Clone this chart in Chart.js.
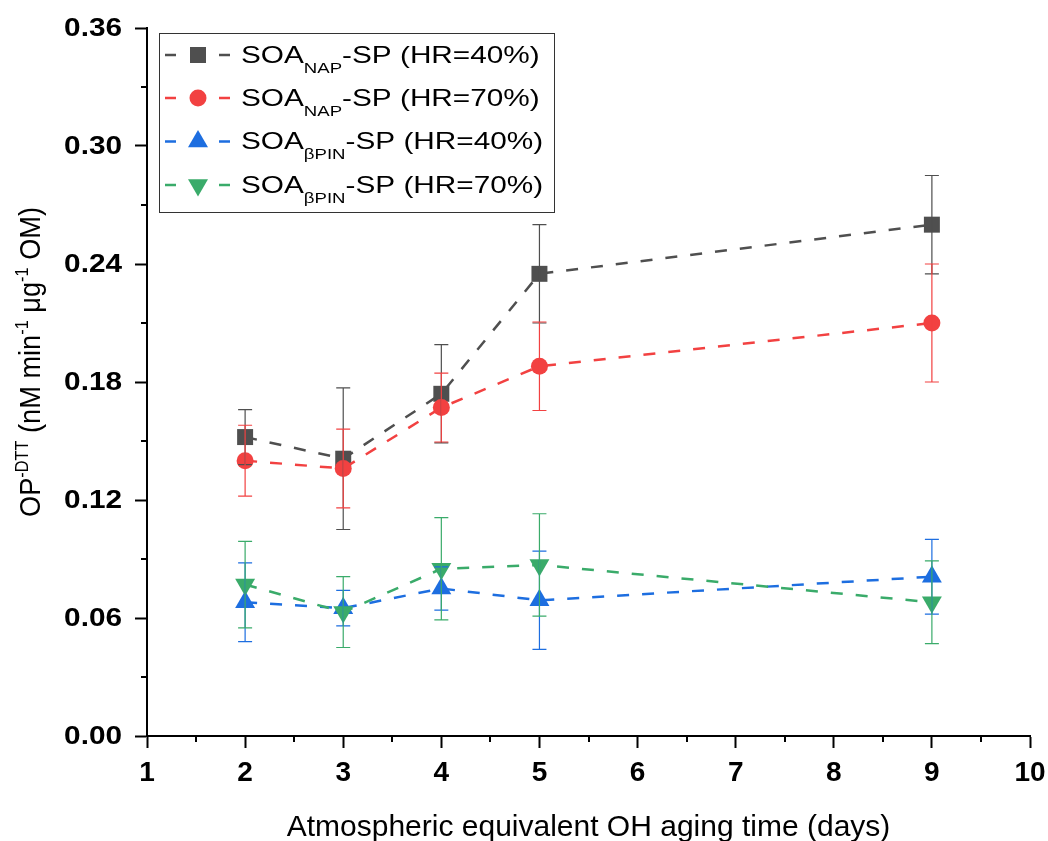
<!DOCTYPE html>
<html>
  <head>
    <meta charset="utf-8" />
    <title>OP-DTT vs aging time</title>
    <script src="https://cdn.jsdelivr.net/npm/chart.js"></script>
    <style>
      body {
        margin: 0;
        background: #fff;
      }
      #wrap {
        width: 1048px;
        height: 841px;
      }
    </style>

    <script type="text/javascript">
      // ---------------------------------------------
      // values
      var agingDays = [2, 3, 4, 5, 9];

      var napHR40 = [0.152, 0.141, 0.174, 0.235, 0.26];
      var napHR40Err = [0.014, 0.036, 0.025, 0.025, 0.025];

      var napHR70 = [0.14, 0.136, 0.167, 0.188, 0.21];
      var napHR70Err = [0.018, 0.02, 0.0175, 0.0225, 0.03];

      var bpinHR40 = [0.068, 0.065, 0.075, 0.069, 0.081];
      var bpinHR40Err = [0.02, 0.009, 0.011, 0.025, 0.019];

      var bpinHR70 = [0.077, 0.063, 0.085, 0.087, 0.068];
      var bpinHR70Err = [0.022, 0.018, 0.026, 0.026, 0.021];

      // legend text: [main, subscript, rest]
      var legendLabels = [
        ["SOA", "NAP", "-SP (HR=40%)"],
        ["SOA", "NAP", "-SP (HR=70%)"],
        ["SOA", "\u03b2PIN", "-SP (HR=40%)"],
        ["SOA", "\u03b2PIN", "-SP (HR=70%)"],
      ];

      var xTitle = "Atmospheric equivalent OH aging time (days)";
      // y title pieces: [text, isSuperscript]
      var yTitle = [
        ["OP", false],
        ["-DTT", true],
        [" (nM min", false],
        ["-1", true],
        [" \u03bcg", false],
        ["-1", true],
        [" OM)", false],
      ];

      var colors = ["#4f4f4f", "#f24141", "#1d6ee0", "#3aab6a"];
      var FONT = "Arial, 'Liberation Sans', sans-serif";

      function pts(ys) {
        var out = [];
        for (var n = 0; n < agingDays.length; n++)
          out.push({ x: agingDays[n], y: ys[n] });
        return out;
      }

      function makeSet(i, label, ys, errs, style, radius, rot) {
        return {
          label: label,
          data: pts(ys),
          errs: errs,
          borderColor: colors[i],
          backgroundColor: colors[i],
          pointBackgroundColor: colors[i],
          pointBorderColor: colors[i],
          pointBorderWidth: 0,
          pointStyle: style,
          pointRadius: radius,
          pointHoverRadius: radius,
          pointRotation: rot || 0,
          borderWidth: 2.5,
          borderDash: [12, 13],
          tension: 0,
          fill: false,
          order: 3 - i,
        };
      }

      // ---------------------------------------------
      // simple marker shapes for the legend
      function drawMarker(ctx, kind, x, y, color) {
        ctx.save();
        ctx.fillStyle = color;
        ctx.beginPath();
        if (kind == "rect") {
          ctx.rect(x - 8, y - 8, 16, 16);
        } else if (kind == "circle") {
          ctx.arc(x, y, 8.5, 0, Math.PI * 2);
        } else if (kind == "up") {
          ctx.moveTo(x, y - 11.5);
          ctx.lineTo(x + 10, y + 5.75);
          ctx.lineTo(x - 10, y + 5.75);
        } else {
          ctx.moveTo(x, y + 11.5);
          ctx.lineTo(x + 10, y - 5.75);
          ctx.lineTo(x - 10, y - 5.75);
        }
        ctx.closePath();
        ctx.fill();
        ctx.restore();
      }

      // text drawn with a horizontal stretch (the figure's fonts are wide)
      function wideText(ctx, s, x, y, stretch, align) {
        var w = ctx.measureText(s).width * stretch;
        var left = x;
        if (align == "right") left = x - w;
        else if (align == "center") left = x - w / 2;
        ctx.save();
        ctx.translate(left, y);
        ctx.scale(stretch, 1);
        ctx.textAlign = "left";
        ctx.fillText(s, 0, 0);
        ctx.restore();
        return w;
      }

      const errorBars = {
        id: "errorBars",
        afterDatasetsDraw(chart) {
          const ctx = chart.ctx;
          const xs = chart.scales.x;
          const ys = chart.scales.y;
          ctx.save();
          chart.data.datasets.forEach(function (ds, i) {
            ctx.strokeStyle = colors[i];
            ctx.lineWidth = 1.2;
            ds.data.forEach(function (p, n) {
              var px = xs.getPixelForValue(p.x);
              var top = ys.getPixelForValue(p.y + ds.errs[n]);
              var bot = ys.getPixelForValue(p.y - ds.errs[n]);
              ctx.beginPath();
              ctx.moveTo(px, top);
              ctx.lineTo(px, bot);
              ctx.moveTo(px - 7, top);
              ctx.lineTo(px + 7, top);
              ctx.moveTo(px - 7, bot);
              ctx.lineTo(px + 7, bot);
              ctx.stroke();
            });
          });
          ctx.restore();
        },
      };

      const decorations = {
        id: "decorations",
        afterDraw(chart) {
          const ctx = chart.ctx;
          const area = chart.chartArea;
          const xs = chart.scales.x;
          const ys = chart.scales.y;
          ctx.save();

          // minor ticks
          ctx.strokeStyle = "#000";
          ctx.lineWidth = 2;
          ctx.beginPath();
          for (var v = 0.03; v < 0.36; v += 0.06) {
            var py = Math.round(ys.getPixelForValue(v));
            ctx.moveTo(area.left, py);
            ctx.lineTo(area.left - 6, py);
          }
          for (var d = 1.5; d < 10; d += 1) {
            var px = Math.round(xs.getPixelForValue(d));
            ctx.moveTo(px, area.bottom);
            ctx.lineTo(px, area.bottom + 6);
          }
          ctx.stroke();

          // y tick labels
          ctx.fillStyle = "#000";
          ctx.font = "bold 25px " + FONT;
          ctx.textBaseline = "middle";
          ys.ticks.forEach(function (t) {
            var py = ys.getPixelForValue(t.value);
            wideText(ctx, t.value.toFixed(2), 122, py + 1, 1.19, "right");
          });
          ctx.textBaseline = "alphabetic";

          // x title
          ctx.font = "30px " + FONT;
          ctx.textAlign = "center";
          ctx.fillText(xTitle, (area.left + area.right) / 2, 836);

          // y title, rotated, with superscripts
          var big = "30px " + FONT;
          var small = "18px " + FONT;
          var total = 0;
          yTitle.forEach(function (p) {
            ctx.font = p[1] ? small : big;
            total += ctx.measureText(p[0]).width;
          });
          var squeeze = 310 / total;
          ctx.save();
          ctx.translate(40, 362);
          ctx.rotate(-Math.PI / 2);
          ctx.scale(squeeze, 1);
          ctx.textAlign = "left";
          var cx = -total / 2;
          yTitle.forEach(function (p) {
            ctx.font = p[1] ? small : big;
            ctx.fillText(p[0], cx, p[1] ? -12 : 0);
            cx += ctx.measureText(p[0]).width;
          });
          ctx.restore();

          // legend
          var kinds = ["rect", "circle", "up", "down"];
          var rowY = [55, 98, 141.5, 185];
          var stretch = 1.24;
          ctx.strokeStyle = "#333";
          ctx.lineWidth = 1;
          ctx.strokeRect(159.5, 33.5, 395, 179);
          for (var i = 0; i < 4; i++) {
            var y = rowY[i];
            ctx.strokeStyle = colors[i];
            ctx.lineWidth = 2.5;
            ctx.beginPath();
            ctx.moveTo(165, y);
            ctx.lineTo(176, y);
            ctx.moveTo(219, y);
            ctx.lineTo(230, y);
            ctx.stroke();
            drawMarker(ctx, kinds[i], 198, y, colors[i]);

            ctx.fillStyle = "#000";
            var tx = 241;
            ctx.font = "24px " + FONT;
            tx += wideText(ctx, legendLabels[i][0], tx, y + 7.5, stretch);
            ctx.font = "15px " + FONT;
            tx += wideText(ctx, legendLabels[i][1], tx, y + 17.5, stretch);
            ctx.font = "24px " + FONT;
            wideText(ctx, legendLabels[i][2], tx, y + 7.5, stretch);
          }
          ctx.restore();
        },
      };

      function start() {
        var datasets = [
          makeSet(0, "NAP 40", napHR40, napHR40Err, "rect", 11.3),
          makeSet(1, "NAP 70", napHR70, napHR70Err, "circle", 8.5),
          makeSet(2, "bPIN 40", bpinHR40, bpinHR40Err, "triangle", 11.5),
          makeSet(3, "bPIN 70", bpinHR70, bpinHR70Err, "triangle", 11.5, 180),
        ];

        new Chart(document.getElementById("opchart"), {
          type: "line",
          data: { datasets: datasets },
          plugins: [errorBars, decorations],
          options: {
            responsive: false,
            animation: false,
            layout: { padding: { left: 0, right: 18, top: 28, bottom: 0 } },
            plugins: {
              legend: { display: false },
              tooltip: { enabled: false },
            },
            scales: {
              x: {
                type: "linear",
                min: 1,
                max: 10,
                ticks: {
                  stepSize: 1,
                  color: "#000",
                  padding: 8,
                  font: { family: FONT, size: 28, weight: "bold" },
                },
                grid: {
                  drawOnChartArea: false,
                  drawTicks: true,
                  tickLength: 12,
                  tickWidth: 2,
                  tickColor: "#000",
                },
                border: { display: true, color: "#000", width: 2 },
                afterFit: function (s) {
                  s.height = 105;
                  s.paddingLeft = 0;
                  s.paddingRight = 0;
                },
              },
              y: {
                type: "linear",
                min: 0,
                max: 0.36,
                ticks: {
                  stepSize: 0.06,
                  color: "rgba(0,0,0,0)",
                  padding: 13,
                  font: { family: FONT, size: 25, weight: "bold" },
                  callback: function (v) {
                    return v.toFixed(2);
                  },
                },
                grid: {
                  drawOnChartArea: false,
                  drawTicks: true,
                  tickLength: 12,
                  tickWidth: 2,
                  tickColor: "#000",
                },
                border: { display: true, color: "#000", width: 2 },
                afterFit: function (s) {
                  s.width = 147;
                  s.paddingTop = 0;
                  s.paddingBottom = 0;
                },
              },
            },
          },
        });
      }
    </script>
  </head>

  <body onLoad="start()">
    <div id="wrap">
      <canvas id="opchart" width="1048" height="841"></canvas>
    </div>
  </body>
</html>
